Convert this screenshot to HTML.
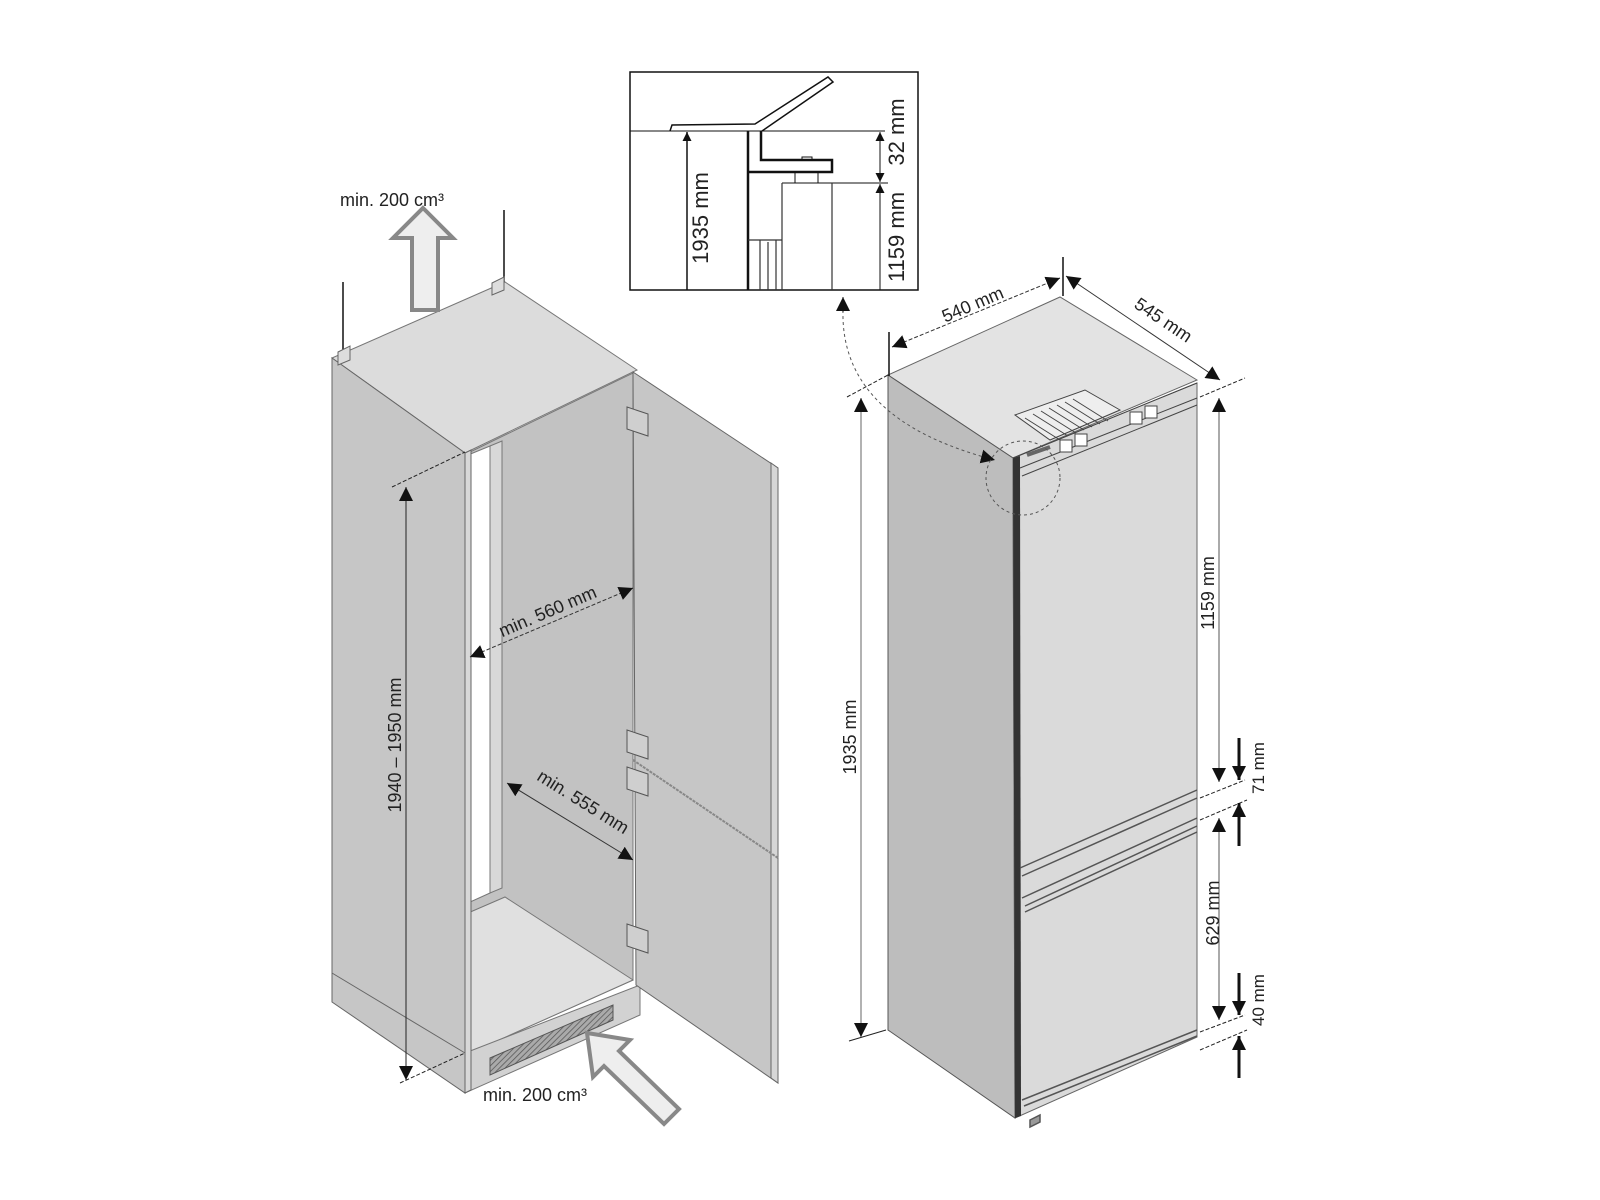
<!DOCTYPE html>
<html><head><meta charset="utf-8"><style>
html,body{margin:0;padding:0;background:#fff;}
svg{display:block;}
text{font-family:"Liberation Sans",sans-serif;fill:#222;}
</style></head><body>
<svg width="1600" height="1200" viewBox="0 0 1600 1200" xmlns="http://www.w3.org/2000/svg">
<defs>
<marker id="ar" viewBox="0 0 10 10" refX="10" refY="5" markerWidth="9" markerHeight="9" orient="auto-start-reverse" markerUnits="userSpaceOnUse"><path d="M0,0L10,5L0,10z" fill="#111"/></marker>
<marker id="ab" viewBox="0 0 10 10" refX="10" refY="5" markerWidth="14" markerHeight="14" orient="auto-start-reverse" markerUnits="userSpaceOnUse"><path d="M0,0L10,5L0,10z" fill="#111"/></marker>
<pattern id="hatch" width="4" height="4" patternUnits="userSpaceOnUse" patternTransform="rotate(45)"><rect width="4" height="4" fill="#aaa"/><line x1="0" y1="0" x2="0" y2="4" stroke="#555" stroke-width="1.5"/></pattern>
</defs>

<!-- ============ CABINET ============ -->
<polygon points="332,358 505,282 637,370 465,453" fill="#dcdcdc" stroke="#777" stroke-width="1"/>
<polygon points="470,452 633,373 633,980 470,1053" fill="#c2c2c2" stroke="#777" stroke-width="1"/>
<polygon points="468,455 490,446 490,893 468,903" fill="#ffffff" stroke="#777" stroke-width="1"/>
<polygon points="490,446 502,441 502,888 490,893" fill="#d8d8d8" stroke="#777" stroke-width="1"/>
<polygon points="468,913 505,897 633,980 470,1053" fill="#e0e0e0" stroke="#777" stroke-width="1"/>
<polygon points="465,1053 640,985 640,1015 465,1093" fill="#d2d2d2" stroke="#777" stroke-width="1"/>
<polygon points="490,1058 613,1005 613,1020 490,1075" fill="url(#hatch)" stroke="#555" stroke-width="1"/>
<polygon points="332,358 465,453 465,1093 332,1002" fill="#c6c6c6" stroke="#666" stroke-width="1"/>
<polygon points="465,453 471,450 471,1090 465,1093" fill="#d8d8d8" stroke="#666" stroke-width="1"/>
<line x1="332" y1="973" x2="465" y2="1053" stroke="#666" stroke-width="1"/>
<polygon points="633,372 778,468 778,1083 636,985" fill="#c6c6c6" stroke="#666" stroke-width="1"/>
<polygon points="771,463 778,468 778,1083 771,1078" fill="#d6d6d6" stroke="#666" stroke-width="1"/>
<line x1="633" y1="760" x2="778" y2="858" stroke="#888" stroke-width="2" stroke-dasharray="3,1"/>
<g fill="#cfcfcf" stroke="#555" stroke-width="1">
<polygon points="627,407 648,414 648,436 627,429"/>
<polygon points="627,730 648,737 648,759 627,752"/>
<polygon points="627,767 648,774 648,796 627,789"/>
<polygon points="627,924 648,931 648,953 627,946"/>
</g>
<line x1="343" y1="282" x2="343" y2="355" stroke="#111" stroke-width="1.5"/>
<line x1="504" y1="210" x2="504" y2="282" stroke="#111" stroke-width="1.5"/>
<polygon points="338,352 350,346 350,360 338,365" fill="#ddd" stroke="#666"/>
<polygon points="492,283 504,277 504,290 492,295" fill="#ddd" stroke="#666"/>
<polygon points="423,208 453,238 438,238 438,310 412,310 412,238 393,238" fill="#eee" stroke="#888" stroke-width="4"/>
<text x="340" y="206" font-size="18">min. 200 cm³</text>
<polygon points="587,1033 630,1040 619,1051 679,1109 664,1124 604,1066 593,1077" fill="#eee" stroke="#888" stroke-width="4"/>
<text x="483" y="1101" font-size="18">min. 200 cm³</text>

<line x1="392" y1="487" x2="465" y2="452" stroke="#222" stroke-width="1" stroke-dasharray="4,2"/>
<line x1="400" y1="1083" x2="465" y2="1053" stroke="#222" stroke-width="1" stroke-dasharray="4,2"/>
<line x1="406" y1="487" x2="406" y2="1080" stroke="#222" stroke-width="1" marker-start="url(#ab)" marker-end="url(#ab)"/>
<text transform="translate(401,745) rotate(-90)" font-size="18" text-anchor="middle">1940 – 1950 mm</text>
<line x1="470" y1="657" x2="633" y2="588" stroke="#333" stroke-width="1" stroke-dasharray="4,2" marker-start="url(#ab)" marker-end="url(#ab)"/>
<text transform="translate(550,617) rotate(-23)" font-size="18" text-anchor="middle">min. 560 mm</text>
<line x1="507" y1="783" x2="633" y2="860" stroke="#333" stroke-width="1" marker-start="url(#ab)" marker-end="url(#ab)"/>
<text transform="translate(580,807) rotate(32)" font-size="18" text-anchor="middle">min. 555 mm</text>

<!-- ============ INSET ============ -->
<rect x="630" y="72" width="288" height="218" fill="#fff" stroke="#111" stroke-width="1.5"/>
<line x1="630" y1="131" x2="885" y2="131" stroke="#111" stroke-width="1"/>
<line x1="782" y1="183" x2="888" y2="183" stroke="#111" stroke-width="1"/>
<path d="M670,131 L672,125 L755,124 L828,77 L833,82 L762,131" fill="none" stroke="#111" stroke-width="1.5"/>
<path d="M748,131 L748,290 M761,131 L761,160 L832,160 L832,172 L748,172" fill="none" stroke="#111" stroke-width="2.5"/>
<path d="M802,160 L802,157 L812,157 L812,160 M795,172 L795,183 L818,183 L818,172" fill="none" stroke="#111" stroke-width="1"/>
<path d="M782,183 L782,290 M832,183 L832,290 M748,240 L782,240 M760,240 L760,290 M768,242 L768,290 M776,240 L776,290" fill="none" stroke="#333" stroke-width="1.2"/>
<line x1="687" y1="132" x2="687" y2="290" stroke="#111" stroke-width="1.5" marker-start="url(#ar)"/>
<text transform="translate(708,218) rotate(-90)" font-size="22" text-anchor="middle">1935 mm</text>
<line x1="880" y1="132" x2="880" y2="182" stroke="#111" stroke-width="1" marker-start="url(#ar)" marker-end="url(#ar)"/>
<line x1="880" y1="184" x2="880" y2="290" stroke="#111" stroke-width="1" marker-start="url(#ar)"/>
<text transform="translate(904,132) rotate(-90)" font-size="22" text-anchor="middle">32 mm</text>
<text transform="translate(904,237) rotate(-90)" font-size="22" text-anchor="middle">1159 mm</text>

<!-- ============ FRIDGE ============ -->
<polygon points="888,375 1060,297 1197,380 1013,458" fill="#e3e3e3" stroke="#666" stroke-width="1"/>
<polygon points="888,375 1013,458 1015,1118 888,1030" fill="#bdbdbd" stroke="#555" stroke-width="1"/>
<polygon points="1013,458 1197,383 1197,1037 1015,1118" fill="#dadada" stroke="#666" stroke-width="1"/>
<polygon points="1013,458 1020,456 1021,1116 1015,1118" fill="#333"/>
<g stroke="#444" stroke-width="1" fill="none">
<polygon points="1015,415 1085,390 1120,410 1050,440" fill="#eee"/>
<path d="M1025,418 L1060,440 M1033,414 L1068,436 M1041,411 L1076,433 M1049,408 L1084,430 M1057,405 L1092,427 M1065,402 L1100,424 M1073,399 L1108,421"/>
<path d="M1013,458 L1197,383 M1020,468 L1197,398 M1022,476 L1197,405"/>
<rect x="1060" y="440" width="12" height="12" fill="#fff"/>
<rect x="1075" y="434" width="12" height="12" fill="#fff"/>
<rect x="1130" y="412" width="12" height="12" fill="#fff"/>
<rect x="1145" y="406" width="12" height="12" fill="#fff"/>
<path d="M1027,455 L1050,447" stroke-width="4" stroke="#666"/>
</g>
<g stroke="#555" stroke-width="1.5" fill="none">
<path d="M1020,868 L1197,790 M1022,876 L1197,798"/>
<path d="M1022,898 L1197,818 M1025,906 L1197,826 M1025,912 L1197,832"/>
<path d="M1022,1100 L1197,1030 M1024,1106 L1197,1036"/>
<path d="M1030,1120 L1040,1115 L1040,1122 L1030,1127z" fill="#999"/>
</g>
<line x1="847" y1="397" x2="888" y2="375" stroke="#222" stroke-width="1" stroke-dasharray="4,2"/>
<line x1="849" y1="1041" x2="886" y2="1030" stroke="#222" stroke-width="1"/>
<line x1="861" y1="398" x2="861" y2="1037" stroke="#999" stroke-width="1.5" marker-start="url(#ab)" marker-end="url(#ab)"/>
<text transform="translate(856,737) rotate(-90)" font-size="18" text-anchor="middle">1935 mm</text>
<line x1="889" y1="332" x2="889" y2="376" stroke="#111" stroke-width="1.5"/>
<line x1="1063" y1="257" x2="1063" y2="296" stroke="#111" stroke-width="1.5"/>
<line x1="892" y1="347" x2="1060" y2="278" stroke="#333" stroke-width="1" stroke-dasharray="4,2" marker-start="url(#ab)" marker-end="url(#ab)"/>
<text transform="translate(975,310) rotate(-23)" font-size="18" text-anchor="middle">540 mm</text>
<line x1="1066" y1="276" x2="1220" y2="380" stroke="#333" stroke-width="1" marker-start="url(#ab)" marker-end="url(#ab)"/>
<text transform="translate(1160,325) rotate(34)" font-size="18" text-anchor="middle">545 mm</text>
<line x1="1200" y1="397" x2="1245" y2="378" stroke="#222" stroke-width="1" stroke-dasharray="4,2"/>
<line x1="1219" y1="398" x2="1219" y2="782" stroke="#555" stroke-width="1" marker-start="url(#ab)" marker-end="url(#ab)"/>
<text transform="translate(1214,593) rotate(-90)" font-size="18" text-anchor="middle">1159 mm</text>
<line x1="1200" y1="798" x2="1245" y2="780" stroke="#222" stroke-width="1" stroke-dasharray="4,2"/>
<line x1="1200" y1="820" x2="1247" y2="800" stroke="#222" stroke-width="1" stroke-dasharray="4,2"/>
<line x1="1239" y1="738" x2="1239" y2="780" stroke="#111" stroke-width="3" marker-end="url(#ab)"/>
<line x1="1239" y1="846" x2="1239" y2="803" stroke="#111" stroke-width="3" marker-end="url(#ab)"/>
<text transform="translate(1264,768) rotate(-90)" font-size="17" text-anchor="middle">71 mm</text>
<line x1="1219" y1="818" x2="1219" y2="1020" stroke="#555" stroke-width="1" marker-start="url(#ab)" marker-end="url(#ab)"/>
<text transform="translate(1219,913) rotate(-90)" font-size="18" text-anchor="middle">629 mm</text>
<line x1="1200" y1="1032" x2="1245" y2="1015" stroke="#222" stroke-width="1" stroke-dasharray="4,2"/>
<line x1="1200" y1="1050" x2="1247" y2="1030" stroke="#222" stroke-width="1" stroke-dasharray="4,2"/>
<line x1="1239" y1="973" x2="1239" y2="1015" stroke="#111" stroke-width="3" marker-end="url(#ab)"/>
<line x1="1239" y1="1078" x2="1239" y2="1036" stroke="#111" stroke-width="3" marker-end="url(#ab)"/>
<text transform="translate(1264,1000) rotate(-90)" font-size="17" text-anchor="middle">40 mm</text>
<path d="M843,310 Q840,420 995,460" fill="none" stroke="#555" stroke-width="1" stroke-dasharray="3,3" marker-end="url(#ab)"/>
<line x1="843" y1="312" x2="843" y2="297" stroke="#111" stroke-width="1" marker-end="url(#ab)"/>
<circle cx="1023" cy="478" r="37" fill="none" stroke="#555" stroke-width="1" stroke-dasharray="3,3"/>
</svg>
</body></html>
